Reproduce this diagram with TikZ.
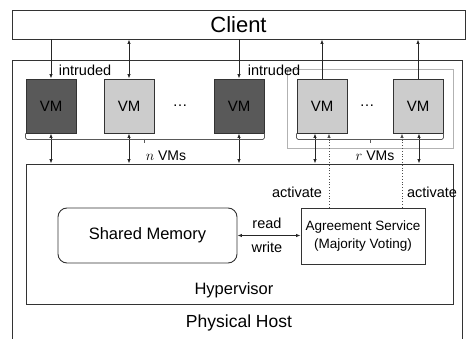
\documentclass[tikz,border=0pt]{standalone}
\usepackage{fontspec}
\setmainfont{Liberation Sans}
\usetikzlibrary{arrows.meta}
\newcommand\myfs[1]{\fontsize{#1pt}{#1pt}\selectfont}
\begin{document}
\begin{tikzpicture}[x=1pt,y=-1pt,
  frame/.style={draw=black!80, line width=0.9pt},
  box/.style={draw=black!80, line width=0.9pt, inner sep=0pt},
  vmdark/.style={box, fill=black!65, minimum width=50pt, minimum height=54pt, font=\myfs{15}},
  vmlight/.style={box, fill=black!20, minimum width=50pt, minimum height=54pt, font=\myfs{15}},
  lbl/.style={inner sep=0pt, font=\myfs{14.5}},
  arr/.style={line width=0.8pt, draw=black!85, -{Latex[length=4.5pt,width=3.5pt]}},
  darr/.style={line width=0.8pt, draw=black!85, {Latex[length=4.5pt,width=3.5pt]}-{Latex[length=4.5pt,width=3.5pt]}},
  dotarr/.style={line width=0.8pt, draw=black!70, dotted, -{Latex[length=4.5pt,width=3.5pt]}},
  brk/.style={draw=black!65, line width=0.8pt, rounded corners=1.5pt}]
\useasboundingbox (0,0) rectangle (467,339);
% physical host frame (open at bottom)
\draw[frame] (12,339) |- (462,60) -- (462,339);
\node[lbl, font=\myfs{17.5}] (phys) at (239,323) {Physical Host};
% client
\node[box, minimum width=453pt, minimum height=29pt, font=\myfs{22}] (client) at (238.5,24.5) {Client};
% r group
\node[draw=black!30, line width=0.8pt, minimum width=166pt, minimum height=79pt, inner sep=0pt] (rgrp) at (370,108.5) {};
% VMs
\node[vmdark] (vm1) at (51,106) {VM};
\node[vmlight] (vm2) at (129,106) {VM};
\node[lbl, font=\myfs{15}] (dots1) at (180,106) {\dots};
\node[vmdark] (vm3) at (239,106) {VM};
\node[vmlight] (vm4) at (322,106) {VM};
\node[lbl, font=\myfs{15}] (dots2) at (367,106) {\dots};
\node[vmlight] (vm5) at (418,106) {VM};
% hypervisor
\node[box, minimum width=427pt, minimum height=140pt] (hyp) at (239.5,234) {};
\node[lbl, font=\myfs{16.5}] (hyplbl) at (234,290) {Hypervisor};
\node[box, rounded corners=9pt, minimum width=179pt, minimum height=55pt, font=\myfs{16.5}] (shm) at (147.5,235.5) {Shared Memory};
\node[box, minimum width=124pt, minimum height=56pt, align=center, font=\fontsize{13.5pt}{18pt}\selectfont] (agr) at (363,236) {Agreement Service\\(Majority Voting)};
% labels
\node[lbl] (intr1) at (85,70) {intruded};
\node[lbl] (intr2) at (274,70) {intruded};
\node[lbl, font=\myfs{14}] (nlbl) at (166,156) {$n$ VMs};
\node[lbl, font=\myfs{14}] (rlbl) at (375,156) {$r$ VMs};
\node[lbl] (act1) at (297,192) {activate};
\node[lbl] (act2) at (432,192) {activate};
\node[lbl] (read) at (267,223) {read};
\node[lbl] (write) at (267,247) {write};
% client arrows
\draw[arr] (client.south -| vm1) -- (vm1.north);
\draw[darr] (client.south -| vm2) -- (vm2.north);
\draw[arr] (client.south -| vm3) -- (vm3.north);
\draw[arr] (vm4.north) -- (client.south -| vm4);
\draw[arr] (vm5.north) -- (client.south -| vm5);
% VM to hypervisor
\draw[darr] (vm1.south) -- (hyp.north -| vm1);
\draw[darr] (vm2.south) -- (hyp.north -| vm2);
\draw[darr] (vm3.south) -- (hyp.north -| vm3);
\draw[darr] ([xshift=-7pt]vm4.south) -- ([xshift=-7pt]vm4.south |- hyp.north);
\draw[darr] ([xshift=1pt]vm5.south) -- ([xshift=1pt]vm5.south |- hyp.north);
% activation (dotted)
\draw[dotarr] ([xshift=7pt]vm4.south |- agr.north) -- ([xshift=7pt]vm4.south);
\draw[dotarr] ([xshift=-16pt]vm5.south |- agr.north) -- ([xshift=-16pt]vm5.south);
% read/write
\draw[darr] (shm.east) -- (shm.east -| agr.west);
% brackets
\draw[brk] (vm1.south west) -- ++(0,6) -| (vm3.south east);
\draw[brk] (144,139) -- (144,143);
\draw[brk] (vm4.south west) -- ++(0,6) -| (vm5.south east);
\draw[brk] (370,139) -- (370,143);
\end{tikzpicture}
\end{document}
